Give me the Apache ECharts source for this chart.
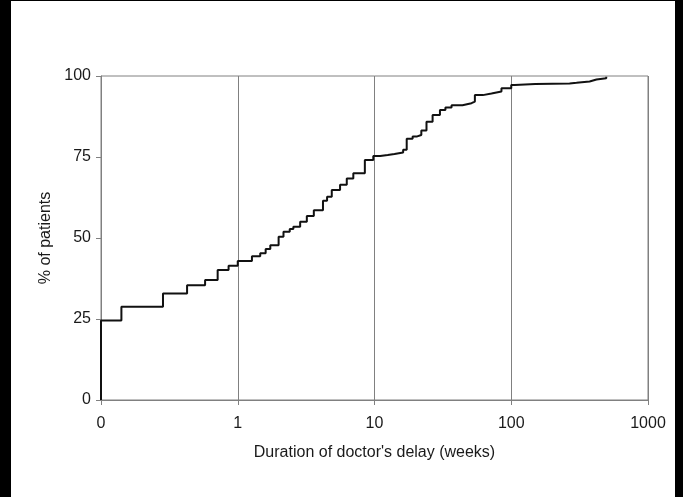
<!DOCTYPE html>
<html>
<head>
<meta charset="utf-8">
<script src="https://cdn.jsdelivr.net/npm/echarts@6/dist/echarts.min.js"></script>
<style>
html,body{margin:0;padding:0;background:#000;width:683px;height:497px;overflow:hidden;}
#chart{position:absolute;left:11px;top:1px;width:664px;height:496px;background:#fff;}
</style>
</head>
<body>
<div id="chart"></div>
<script>
// Duration of doctor's delay (weeks) at which cumulative % jumps
var delayWeeks = [0.1, 0.1, 0.141, 0.284, 0.426, 0.577, 0.713, 0.857, 1.0, 1.27, 1.46, 1.6, 1.73, 1.99, 2.16, 2.4, 2.55, 2.86, 3.2, 3.6, 4.2, 4.5, 4.87, 5.6, 6.27, 7.0, 8.5, 9.8, 11.0, 12.5, 14.0, 16.2, 17.2, 19.0, 20.3, 22.0, 24.0, 26.6, 30.1, 33.0, 36.6, 44.0, 51.2, 54.2, 62.0, 71.7, 84.8, 100, 106, 150, 200, 267, 300, 374, 420, 495];
var pctPatients = [0, 24.5, 28.8, 32.9, 35.4, 37.0, 40.1, 41.4, 42.9, 44.4, 45.3, 46.6, 47.8, 50.4, 51.9, 52.8, 53.5, 55.0, 56.8, 58.6, 61.5, 62.7, 64.8, 66.4, 68.4, 70.0, 74.1, 75.3, 75.6, 75.9, 76.4, 77.2, 80.6, 81.3, 81.8, 83.2, 85.9, 88.0, 89.5, 90.3, 91.0, 91.6, 92.1, 94.1, 94.6, 95.2, 96.2, 97.2, 97.5, 97.6, 97.7, 97.9, 98.3, 98.9, 99.3, 99.8];
var yTicks = [0, 25, 50, 75, 100];
var xTickLabels = {0.1: '0', 1: '1', 10: '10', 100: '100', 1000: '1000'};

var seriesData = delayWeeks.map(function (x, i) { return [x, pctPatients[i]]; });
var font = '"Liberation Sans", Arial, sans-serif';
var gray = '#808080';

var chart = echarts.init(document.getElementById('chart'));
chart.setOption({
  backgroundColor: '#fff',
  animation: false,
  grid: { left: 90, right: 27, top: 75, bottom: 97, show: true, borderColor: gray, borderWidth: 1, backgroundColor: 'transparent' },
  xAxis: {
    type: 'log', logBase: 10, min: 0.1, max: 1000,
    name: "Duration of doctor's delay (weeks)",
    nameLocation: 'middle', nameGap: 45,
    nameTextStyle: { fontFamily: font, fontSize: 16, color: '#1a1a1a' },
    axisLine: { show: true, lineStyle: { color: gray, width: 1 } },
    axisTick: { show: true, length: 5, lineStyle: { color: gray } },
    axisLabel: { fontFamily: font, fontSize: 16, color: '#1a1a1a', margin: 16,
      formatter: function (v) {
        var k = Math.round(Math.log10(v));
        var key = Math.pow(10, k);
        return xTickLabels[key] !== undefined ? xTickLabels[key] : String(v);
      } },
    splitLine: { show: true, lineStyle: { color: gray, width: 1 } }
  },
  yAxis: {
    type: 'value', min: yTicks[0], max: yTicks[yTicks.length - 1], interval: 25,
    name: '% of patients',
    nameLocation: 'middle', nameGap: 46,
    nameTextStyle: { fontFamily: font, fontSize: 16, color: '#1a1a1a' },
    axisLine: { show: true, lineStyle: { color: gray, width: 1 } },
    axisTick: { show: true, length: 5, lineStyle: { color: gray } },
    axisLabel: { fontFamily: font, fontSize: 16, color: '#1a1a1a', margin: 10 },
    splitLine: { show: false }
  },
  series: [{
    type: 'line',
    step: 'end',
    data: seriesData,
    showSymbol: false,
    symbol: 'none',
    lineStyle: { color: '#111', width: 2 }
  }]
});
</script>
</body>
</html>
